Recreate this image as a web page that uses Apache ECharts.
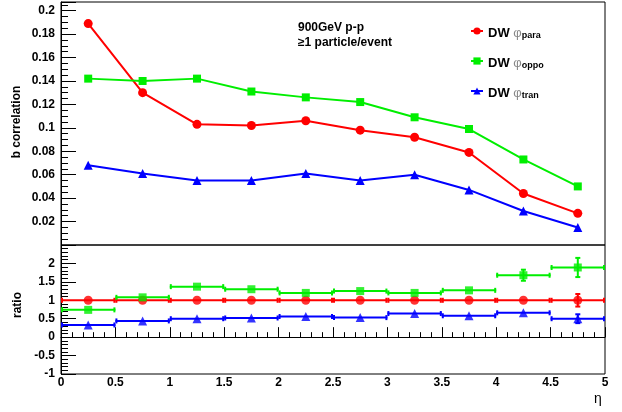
<!DOCTYPE html>
<html><head><meta charset="utf-8">
<script src="https://cdn.jsdelivr.net/npm/echarts@6/dist/echarts.min.js"></script>
<style>html,body{margin:0;padding:0;background:#fff}#c{width:622px;height:412px}</style>
</head><body><div id="c"></div><script>
const etaCenters = [0.25,0.75,1.25,1.75,2.25,2.75,3.25,3.75,4.25,4.75];
const binHalfWidth = 0.25;
const corrPara = [0.189,0.130,0.103,0.102,0.106,0.098,0.092,0.079,0.044,0.027];
const corrOppo = [0.142,0.140,0.142,0.131,0.126,0.122,0.109,0.099,0.073,0.050];
const corrTran = [0.068,0.061,0.055,0.055,0.061,0.055,0.060,0.047,0.029,0.015];
const ratioPara = [1,1,1,1,1,1,1,1,1,1];
const ratioParaErr = [0.01,0.01,0.01,0.01,0.01,0.01,0.01,0.02,0.03,0.17];
const ratioOppo = [0.74,1.08,1.37,1.30,1.20,1.25,1.20,1.27,1.68,1.89];
const ratioOppoErr = [0.01,0.02,0.02,0.02,0.02,0.02,0.03,0.03,0.15,0.26];
const ratioTran = [0.33,0.44,0.50,0.52,0.56,0.53,0.64,0.58,0.66,0.50];
const ratioTranErr = [0.01,0.01,0.01,0.01,0.01,0.01,0.02,0.02,0.03,0.12];
const topYTicks = ['0.02','0.04','0.06','0.08','0.1','0.12','0.14','0.16','0.18','0.2'];
const ratioYTicks = ['-1','-0.5','0','0.5','1','1.5','2'];
const xTicks = ['0','0.5','1','1.5','2','2.5','3','3.5','4','4.5','5'];
const seriesNames = ['para','oppo','tran'];
const colors = ['#ff0000','#00ee00','#0000ff'];
const symbols = ['circle','rect','triangle'];
const symSizes = [9,8,9];

const fnt = 'Liberation Sans, Arial, Helvetica, sans-serif';
function fmtIn(list){ return v => { const s = String(+(+v).toFixed(4)); return list.includes(s) ? s : ''; }; }
const pair = (xs, ys) => xs.map((x,i)=>[x, ys[i]]);

const topVals = [corrPara, corrOppo, corrTran];
const ratioVals = [ratioPara, ratioOppo, ratioTran];
const ratioErrs = [ratioParaErr, ratioOppoErr, ratioTranErr];

const series = [];
[2,0,1].forEach(k => {
  series.push({
    name: seriesNames[k], type: 'line', xAxisIndex: 0, yAxisIndex: 0,
    data: pair(etaCenters, topVals[k]),
    symbol: symbols[k], symbolSize: symSizes[k], showSymbol: true,
    lineStyle: {color: colors[k], width: 2}, itemStyle: {color: colors[k]},
    emphasis: {disabled: true}, animation: false, z: 3
  });
});
[2,0,1].forEach(k => {
  series.push({
    type: 'custom', xAxisIndex: 1, yAxisIndex: 1,
    data: etaCenters.map((x,i)=>[x, ratioVals[k][i], x-binHalfWidth, x+binHalfWidth, ratioVals[k][i]-ratioErrs[k][i], ratioVals[k][i]+ratioErrs[k][i]]),
    renderItem: (params, api) => {
      const c = api.coord([api.value(0), api.value(1)]);
      const l = api.coord([api.value(2), api.value(1)]);
      const r = api.coord([api.value(3), api.value(1)]);
      const lo = api.coord([api.value(0), api.value(4)]);
      const hi = api.coord([api.value(0), api.value(5)]);
      const st = {stroke: colors[k], lineWidth: 2};
      const ch = [
        {type:'line', shape:{x1:l[0],y1:l[1],x2:r[0],y2:r[1]}, style: st},
        {type:'line', shape:{x1:l[0]+1,y1:l[1]-2.5,x2:l[0]+1,y2:l[1]+2.5}, style: st},
        {type:'line', shape:{x1:r[0]-1,y1:r[1]-2.5,x2:r[0]-1,y2:r[1]+2.5}, style: st}
      ];
      if (Math.abs(hi[1]-lo[1]) > 4) {
        ch.push({type:'line', shape:{x1:c[0],y1:lo[1],x2:c[0],y2:hi[1]}, style: st});
        ch.push({type:'line', shape:{x1:c[0]-2.5,y1:lo[1],x2:c[0]+2.5,y2:lo[1]}, style: st});
        ch.push({type:'line', shape:{x1:c[0]-2.5,y1:hi[1],x2:c[0]+2.5,y2:hi[1]}, style: st});
      }
      return {type:'group', children: ch};
    },
    animation: false, silent: true, z: 2
  });
  series.push({
    type: 'scatter', xAxisIndex: 1, yAxisIndex: 1,
    data: pair(etaCenters, ratioVals[k]),
    symbol: symbols[k], symbolSize: symSizes[k], itemStyle: {color: colors[k]},
    emphasis: {disabled: true}, animation: false, z: 3, silent: true
  });
});

const axLine = {show: true, lineStyle: {color: '#000', width: 1}};
const chart = echarts.init(document.getElementById('c'), null, {renderer: 'canvas'});
chart.setOption({
  backgroundColor: '#fff',
  animation: false,
  textStyle: {fontFamily: fnt},
  grid: [
    {left: 61, right: 17, top: 2, height: 243, show: true, borderColor: '#000', borderWidth: 1, backgroundColor: '#fff'},
    {left: 61, right: 17, top: 245, height: 129, show: true, borderColor: '#000', borderWidth: 1, backgroundColor: 'transparent'}
  ],
  xAxis: [
    {type: 'value', gridIndex: 0, min: 0, max: 5, interval: 0.5, axisLine: {show: false}, axisTick: {show: false}, axisLabel: {show: false}, splitLine: {show: false}},
    {type: 'value', gridIndex: 1, min: 0, max: 5, interval: 0.5, axisLine: axLine,
     axisTick: {show: true, inside: true, length: 10, lineStyle: {color: '#000'}},
     minorTick: {show: true, splitNumber: 5, length: 5, lineStyle: {color: '#000'}},
     axisLabel: {formatter: fmtIn(xTicks), color: '#000', fontWeight: 'bold', fontSize: 12, margin: 3, fontFamily: fnt, showMinLabel: true, showMaxLabel: true},
     splitLine: {show: false}}
  ],
  yAxis: [
    {type: 'value', gridIndex: 0, min: 0, max: 0.2074, interval: 0.02, axisLine: axLine,
     axisTick: {show: true, inside: true, length: 15, lineStyle: {color: '#000'}},
     minorTick: {show: true, splitNumber: 4, length: 7, lineStyle: {color: '#000'}},
     axisLabel: {formatter: fmtIn(topYTicks), color: '#000', fontWeight: 'bold', fontSize: 12, margin: 6, fontFamily: fnt},
     splitLine: {show: false}},
    {type: 'value', gridIndex: 1, min: -1, max: 2.5, interval: 0.5, axisLine: axLine,
     axisTick: {show: true, inside: true, length: 15, lineStyle: {color: '#000'}},
     minorTick: {show: true, splitNumber: 5, length: 7, lineStyle: {color: '#000'}},
     axisLabel: {formatter: fmtIn(ratioYTicks), color: '#000', fontWeight: 'bold', fontSize: 12, margin: 6, fontFamily: fnt},
     splitLine: {show: false}}
  ],
  legend: {
    data: seriesNames, orient: 'vertical', left: 465, top: 17, itemGap: 12,
    itemWidth: 12, itemHeight: 9, selectedMode: false,
    formatter: n => '{a|DW }{p|\u03c6}{s|' + n + '}',
    textStyle: {rich: {
      a: {fontSize: 13, fontWeight: 'bold', color: '#000', fontFamily: fnt, lineHeight: 18, verticalAlign: 'bottom'},
      p: {fontSize: 13, color: '#888', fontFamily: fnt, lineHeight: 18, verticalAlign: 'bottom'},
      s: {fontSize: 9, fontWeight: 'bold', color: '#000', fontFamily: fnt, lineHeight: 9, padding: [9,0,0,0], verticalAlign: 'bottom'}
    }}
  },
  graphic: [
    {type: 'text', left: 298, top: 22, style: {text: '900GeV p-p', font: 'bold 12px ' + fnt, fill: '#000'}},
    {type: 'text', left: 298, top: 37, style: {text: '\u22651 particle/event', font: 'bold 12px ' + fnt, fill: '#000'}},
    {type: 'text', x: 17, y: 122, rotation: Math.PI/2, style: {text: 'b correlation', font: 'bold 12px ' + fnt, fill: '#000', align: 'center', verticalAlign: 'middle'}},
    {type: 'text', x: 18, y: 305, rotation: Math.PI/2, style: {text: 'ratio', font: 'bold 12px ' + fnt, fill: '#000', align: 'center', verticalAlign: 'middle'}},
    {type: 'text', x: 598, y: 399, style: {text: '\u03b7', font: '14px ' + fnt, fill: '#000', align: 'center', verticalAlign: 'middle'}}
  ],
  series: series
});
</script></body></html>
